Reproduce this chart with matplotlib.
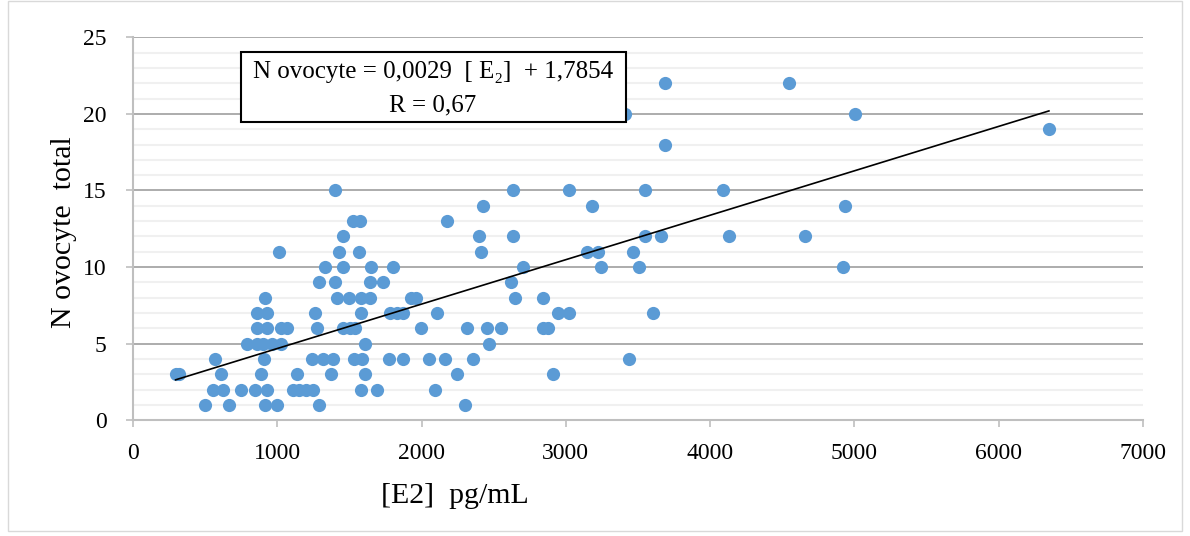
import matplotlib
matplotlib.use('Agg')
import matplotlib.pyplot as plt
from matplotlib.patches import Rectangle
from matplotlib.ticker import MultipleLocator
import numpy as np

# [E2] pg/mL values grouped by number of oocytes
e2_by_count = {
    1: [499, 665, 915, 998, 1289, 2301],
    2: [552, 626, 748, 845, 931, 1109, 1150, 1199, 1247, 1580, 1691, 2093],
    3: [295, 322, 610, 887, 1137, 1372, 1605, 2245, 2913],
    4: [568, 908, 1240, 1317, 1386, 1531, 1587, 1774, 1871, 2051, 2162, 2356, 3437],
    5: [790, 859, 901, 963, 1026, 1608, 2467],
    6: [859, 929, 1026, 1067, 1275, 1455, 1504, 1538, 1996, 2315, 2453, 2550, 2841, 2876],
    7: [859, 929, 1261, 1580, 1781, 1830, 1871, 2107, 2945, 3022, 3604],
    8: [915, 1414, 1497, 1580, 1642, 1926, 1961, 2647, 2841],
    9: [1289, 1400, 1642, 1733, 2620],
    10: [1331, 1455, 1649, 1802, 2703, 3243, 3507, 4922],
    11: [1012, 1428, 1566, 2412, 3146, 3222, 3465],
    12: [1455, 2398, 2633, 3548, 3659, 4130, 4657],
    13: [1525, 1573, 2176],
    14: [2428, 3183, 4936],
    15: [1400, 2633, 3022, 3548, 4089],
    18: [3687],
    19: [6348],
    20: [3410, 5003],
    22: [3687, 4546],
}

e2 = []
n_ovocyte = []
for count, values in e2_by_count.items():
    for v in values:
        e2.append(v)
        n_ovocyte.append(count)
e2 = np.array(e2)
n_ovocyte = np.array(n_ovocyte)

slope = 0.0029
intercept = 1.7854

x_ticks = [0, 1000, 2000, 3000, 4000, 5000, 6000, 7000]
y_ticks = [0, 5, 10, 15, 20, 25]

serif = ['Liberation Serif', 'DejaVu Serif']
plt.rcParams['font.family'] = serif

fig = plt.figure(figsize=(11.9, 5.36), dpi=100)
ax = fig.add_axes([133 / 1190, 1 - 420.3 / 536, 1010 / 1190, 383 / 536])

# outer chart frame
fig.patches.append(Rectangle((8 / 1190, 5 / 536), 1174 / 1190, 530 / 536,
                             transform=fig.transFigure, fill=False,
                             edgecolor='#d9d9d9', linewidth=1))

ax.set_xlim(0, 7000)
ax.set_ylim(0, 25)
ax.set_xticks(x_ticks)
ax.set_yticks(y_ticks)
ax.yaxis.set_minor_locator(MultipleLocator(1))
ax.grid(axis='y', which='minor', color='#f0f0f0', linewidth=1.5)
ax.grid(axis='y', which='major', color='#a6a6a6', linewidth=1.3)
ax.set_axisbelow(True)

for side in ['top', 'right']:
    ax.spines[side].set_visible(False)
for side in ['left', 'bottom']:
    ax.spines[side].set_color('#bfbfbf')
    ax.spines[side].set_linewidth(1.5)

ax.tick_params(axis='both', which='major', direction='out', length=5,
               color='#bfbfbf', width=1.2, labelsize=17)
ax.tick_params(axis='y', which='major', pad=14)
ax.tick_params(axis='x', which='major', pad=11)
ax.tick_params(axis='y', which='minor', length=0)

ax.plot(e2, n_ovocyte, 'o', color='#5b9bd5', markersize=9.5, markeredgewidth=0, zorder=3)

xfit = np.array([e2.min(), e2.max()])
ax.plot(xfit, slope * xfit + intercept, color='black', linewidth=1.2, zorder=4)

fig.text(64 / 1190, 1 - 232 / 536, 'N ovocyte  total', rotation=90,
         ha='center', va='center', fontsize=21.5)
fig.text(455 / 1190, 1 - 496 / 536, '[E2]  pg/mL', ha='center', va='center', fontsize=21.5)

box = Rectangle((241 / 1190, 1 - 121.7 / 536), 384.7 / 1190, 70 / 536,
                transform=fig.transFigure, facecolor='white',
                edgecolor='black', linewidth=1.5, zorder=5)
fig.patches.append(box)
fig.text(433 / 1190, 1 - 72 / 536, 'N ovocyte = 0,0029  [ E\u2082]  + 1,7854',
         ha='center', va='center', fontsize=18, family=serif, zorder=6)
fig.text(433 / 1190, 1 - 105 / 536, 'R = 0,67',
         ha='center', va='center', fontsize=18, family=serif, zorder=6)

fig.savefig('out.png', dpi=100)
